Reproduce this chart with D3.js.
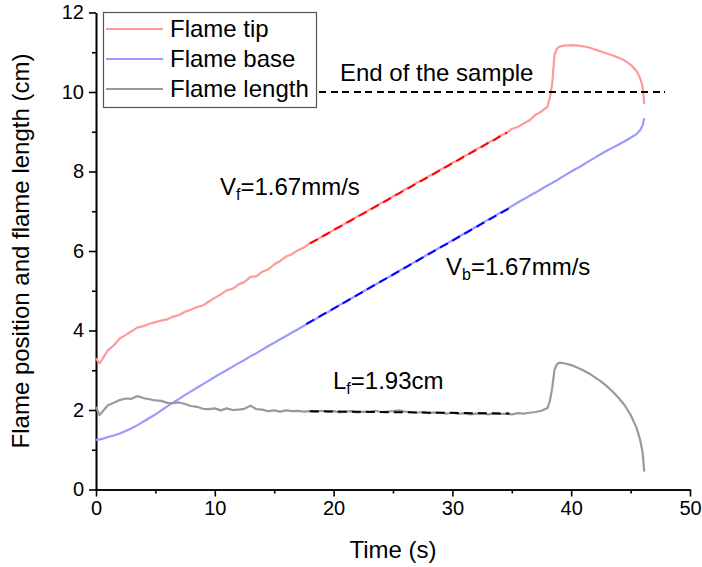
<!DOCTYPE html>
<html><head><meta charset="utf-8">
<script src="https://cdn.jsdelivr.net/npm/d3@7"></script>
<style>body{margin:0;background:#fff} svg{display:block} text{font-family:"Liberation Sans",Arial,sans-serif;fill:#000}</style>
</head><body><svg id="c" width="702" height="567"></svg>
<script>
// ---- data ----
const time = [
  0, 0.3, 0.6, 1, 1.5, 2, 2.5, 3, 3.5, 4,
  4.5, 5, 5.5, 6, 6.5, 7, 7.5, 8, 8.5, 9,
  9.5, 10, 10.5, 11, 11.5, 12, 12.5, 13, 13.5, 14,
  14.5, 15, 15.5, 16, 16.5, 17, 17.5, 18, 18.5, 19,
  19.5, 20, 20.5, 21, 21.5, 22, 22.5, 23, 23.5, 24,
  24.5, 25, 25.5, 26, 26.5, 27, 27.5, 28, 28.5, 29,
  29.5, 30, 30.5, 31, 31.5, 32, 32.5, 33, 33.5, 34,
  34.5, 35, 35.5, 36, 36.5, 37, 37.5, 38, 38.2, 38.4,
  38.6, 38.8, 39, 39.5, 40, 40.5, 41, 41.5, 42, 42.5,
  43, 43.5, 44, 44.5, 45, 45.5, 45.8, 46, 46.08, 46.15
];
const flameTip = [
  3.30, 3.17, 3.31, 3.50, 3.63, 3.80, 3.89, 3.98, 4.08, 4.11,
  4.17, 4.21, 4.25, 4.28, 4.35, 4.39, 4.47, 4.52, 4.59, 4.63,
  4.73, 4.82, 4.91, 5.01, 5.05, 5.16, 5.22, 5.35, 5.36, 5.48,
  5.54, 5.66, 5.75, 5.86, 5.92, 6.02, 6.09, 6.19, 6.26, 6.36,
  6.43, 6.53, 6.60, 6.70, 6.77, 6.87, 6.93, 7.04, 7.10, 7.21,
  7.27, 7.38, 7.44, 7.55, 7.61, 7.72, 7.78, 7.88, 7.95, 8.05,
  8.12, 8.22, 8.29, 8.39, 8.46, 8.56, 8.63, 8.73, 8.79, 8.90,
  8.96, 9.07, 9.12, 9.21, 9.29, 9.43, 9.51, 9.63, 9.86, 10.2,
  10.95, 11.09, 11.14, 11.17, 11.18, 11.17, 11.15, 11.12, 11.07, 11.02,
  10.97, 10.92, 10.86, 10.79, 10.69, 10.53, 10.35, 10.15, 9.95, 9.70
];
const flameBase = [
  1.25, 1.26, 1.28, 1.32, 1.36, 1.41, 1.47, 1.54, 1.62, 1.71,
  1.80, 1.89, 1.99, 2.09, 2.19, 2.28, 2.38, 2.47, 2.56, 2.65,
  2.74, 2.83, 2.92, 3.00, 3.09, 3.18, 3.26, 3.35, 3.43, 3.52,
  3.61, 3.69, 3.78, 3.86, 3.95, 4.03, 4.12, 4.21, 4.29, 4.38,
  4.46, 4.55, 4.64, 4.72, 4.81, 4.89, 4.98, 5.07, 5.15, 5.24,
  5.32, 5.41, 5.50, 5.58, 5.67, 5.75, 5.84, 5.93, 6.01, 6.10,
  6.18, 6.27, 6.36, 6.44, 6.53, 6.61, 6.70, 6.79, 6.87, 6.96,
  7.04, 7.13, 7.22, 7.30, 7.39, 7.47, 7.56, 7.65, 7.68, 7.71,
  7.75, 7.78, 7.82, 7.91, 8.00, 8.08, 8.17, 8.26, 8.35, 8.44,
  8.52, 8.60, 8.68, 8.76, 8.85, 8.94, 9.04, 9.15, 9.25, 9.34
];
const flameLength = [
  2.08, 1.87, 1.98, 2.12, 2.18, 2.25, 2.29, 2.28, 2.35, 2.30,
  2.27, 2.24, 2.23, 2.18, 2.17, 2.19, 2.15, 2.10, 2.08, 2.03,
  2.02, 2.04, 1.99, 2.04, 2.00, 2.01, 2.03, 2.11, 2.02, 2.01,
  1.97, 1.99, 1.96, 1.99, 1.97, 1.98, 1.96, 1.97, 1.95, 1.98,
  1.95, 1.97, 1.94, 1.96, 1.97, 1.94, 1.96, 1.95, 1.98, 1.95,
  1.96, 1.97, 1.99, 1.96, 1.95, 1.93, 1.95, 1.92, 1.94, 1.93,
  1.91, 1.93, 1.90, 1.92, 1.89, 1.91, 1.92, 1.89, 1.91, 1.90,
  1.91, 1.89, 1.92, 1.91, 1.93, 1.95, 1.98, 2.05, 2.22, 2.55,
  3.02, 3.15, 3.19, 3.17, 3.13, 3.07, 3.00, 2.92, 2.82, 2.72,
  2.60, 2.46, 2.30, 2.12, 1.88, 1.55, 1.25, 0.95, 0.70, 0.45
];
// linear fits
const tipFitT = [18, 34.6],  tipFitV = [6.19, 8.98];
const baseFitT = [17.7, 34.8], baseFitV = [4.16, 7.08];
const lenFitT = [18, 34.8],  lenFitV = [1.97, 1.91];
// end of sample marker
const sampleEndT = [18.8, 47.9], sampleEndV = [10, 10];
// ticks
const xMajor = [0, 10, 20, 30, 40, 50], xMinor = [5, 15, 25, 35, 45];
const yMajor = [0, 2, 4, 6, 8, 10, 12], yMinor = [1, 3, 5, 7, 9, 11];
const seriesNames = ["Flame tip", "Flame base", "Flame length"];

// ---- drawing ----
const svg = d3.select("#c");
const FONT = '"Liberation Sans",Arial,sans-serif';
const x = d3.scaleLinear().domain([0, 50]).range([96, 690]);
const y = d3.scaleLinear().domain([0, 12]).range([489.5, 12.5]);

const line = d3.line().x(d => x(d[0])).y(d => y(d[1]));
const zip = (t, v) => t.map((ti, i) => [ti, v[i]]);

function styleAxis(g) {
  g.attr("font-family", FONT).attr("font-size", 20);
  g.selectAll("path.domain").attr("stroke", "#000").attr("stroke-width", 1.6);
  g.selectAll(".tick line").attr("stroke", "#000").attr("stroke-width", 1.6);
  g.selectAll(".tick text").attr("fill", "#000");
}
// minor ticks
svg.append("g").attr("transform", `translate(0,${y(0)})`)
  .call(d3.axisBottom(x).tickValues(xMinor).tickSize(4).tickFormat("").tickSizeOuter(0))
  .call(styleAxis);
svg.append("g").attr("transform", `translate(${x(0)},0)`)
  .call(d3.axisLeft(y).tickValues(yMinor).tickSize(4).tickFormat("").tickSizeOuter(0))
  .call(styleAxis);
// major ticks
svg.append("g").attr("transform", `translate(0,${y(0)})`)
  .call(d3.axisBottom(x).tickValues(xMajor).tickSize(7).tickPadding(4).tickSizeOuter(0))
  .call(styleAxis);
svg.append("g").attr("transform", `translate(${x(0)},0)`)
  .call(d3.axisLeft(y).tickValues(yMajor).tickSize(7).tickPadding(5).tickSizeOuter(0))
  .call(styleAxis);

// series
const colors = ["#ff9a9a", "#9a9aff", "#9a9a9a"];
const series = [flameTip, flameBase, flameLength];
series.forEach((s, i) => {
  svg.append("path").datum(zip(time, s)).attr("d", line)
    .attr("fill", "none").attr("stroke", colors[i]).attr("stroke-width", 2.2)
    .attr("stroke-linejoin", "round");
});
// fits
[[tipFitT, tipFitV, "#ff0000"], [baseFitT, baseFitV, "#0000ff"], [lenFitT, lenFitV, "#000"]]
  .forEach(([t, v, c]) => {
    svg.append("path").datum(zip(t, v)).attr("d", line)
      .attr("fill", "none").attr("stroke", c).attr("stroke-width", 2)
      .attr("stroke-dasharray", "9,5");
  });
// end of sample
svg.append("path").datum(zip(sampleEndT, sampleEndV)).attr("d", line)
  .attr("fill", "none").attr("stroke", "#000").attr("stroke-width", 1.3)
  .attr("shape-rendering", "crispEdges")
  .attr("stroke-dasharray", "7,4.5");
svg.append("text").attr("x", 340).attr("y", 81).attr("font-size", 24).text("End of the sample");

// annotations
function annot(px, py, main, sub, rest) {
  const t = svg.append("text").attr("x", px).attr("y", py).attr("font-size", 24);
  t.append("tspan").text(main);
  t.append("tspan").attr("font-size", 16).attr("dy", 5).text(sub);
  t.append("tspan").attr("dy", -5).text(rest);
}
annot(220, 195, "V", "f", "=1.67mm/s");
annot(446, 275, "V", "b", "=1.67mm/s");
annot(333, 389, "L", "f", "=1.93cm");

// legend
const lg = svg.append("g");
lg.append("rect").attr("x", 103.5).attr("y", 12.5).attr("width", 213).attr("height", 95)
  .attr("fill", "#fff").attr("stroke", "#555").attr("stroke-width", 1.2);
seriesNames.forEach((n, i) => {
  const yy = 29 + i * 30;
  lg.append("line").attr("x1", 106).attr("x2", 163).attr("y1", yy).attr("y2", yy)
    .attr("stroke", colors[i]).attr("stroke-width", 2.2);
  lg.append("text").attr("x", 170).attr("y", yy + 8).attr("font-size", 24).text(n);
});

// axis titles
svg.append("text").attr("x", x(25)).attr("y", 558).attr("text-anchor", "middle")
  .attr("font-size", 24).text("Time (s)");
svg.append("text").attr("transform", `translate(29,${(y(0) + y(12)) / 2}) rotate(-90)`)
  .attr("text-anchor", "middle").attr("font-size", 24)
  .text("Flame position and flame length (cm)");
</script></body></html>
